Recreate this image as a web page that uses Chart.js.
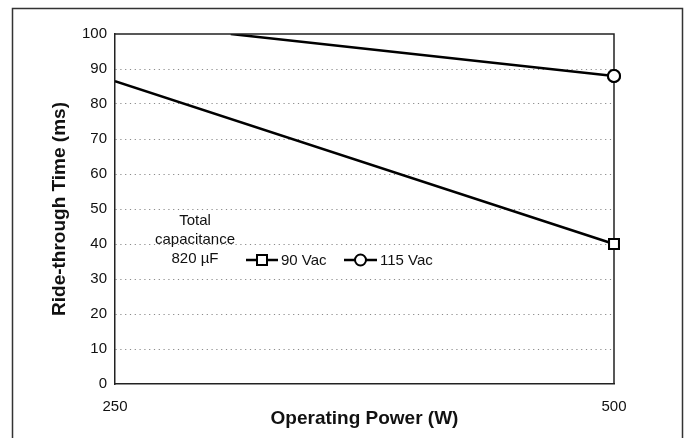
<!DOCTYPE html>
<html>
<head>
<meta charset="utf-8">
<script src="https://cdn.jsdelivr.net/npm/chart.js@4/dist/chart.umd.min.js"></script>
<style>
html,body{margin:0;padding:0;background:#fff;}
#wrap{width:690px;height:438px;position:relative;}
</style>
</head>
<body>
<div id="wrap"><canvas id="rideChart" width="690" height="438"></canvas></div>
<script>
// power (W) and ride-through time (ms)
var power90 = [250, 500];
var time90 = [86.5, 40];
var power115 = [308, 500];
var time115 = [100, 88];
var xTicks = [250, 500];
var yTicks = [0, 10, 20, 30, 40, 50, 60, 70, 80, 90, 100];
var seriesNames = ['90 Vac', '115 Vac'];
var noteLines = ['Total', 'capacitance', '820 \u00b5F'];

var FONT = '"Liberation Sans", Arial, Helvetica, sans-serif';

let toPoints = (xs, ys) => xs.map((x, i) => ({x: x, y: ys[i]}));

// outer frame + plot box + note + legend
let framePlugin = {
	id: 'framePlugin',
	beforeDraw: c => {
		let ctx = c.ctx;
		ctx.save();
		ctx.fillStyle = '#fff';
		ctx.fillRect(0, 0, c.width, c.height);
		ctx.strokeStyle = '#333';
		ctx.lineWidth = 1.5;
		ctx.beginPath();
		ctx.moveTo(12.5, 438);
		ctx.lineTo(12.5, 8.5);
		ctx.lineTo(682.5, 8.5);
		ctx.lineTo(682.5, 438);
		ctx.stroke();
		ctx.restore();
	},
	afterDatasetsDraw: c => {
		let ctx = c.ctx, a = c.chartArea;
		ctx.save();
		ctx.strokeStyle = '#222';
		ctx.lineWidth = 1.5;
		ctx.beginPath();
		ctx.moveTo(a.left, a.top);
		ctx.lineTo(a.right, a.top);
		ctx.lineTo(a.right, a.bottom);
		ctx.stroke();
		ctx.restore();
		// redraw end markers on top of the frame
		c.data.datasets.forEach((ds, i) => {
			c.getDatasetMeta(i).data.forEach(p => p.draw(ctx, a));
		});
	},
	afterDraw: c => {
		let ctx = c.ctx;
		ctx.save();
		ctx.fillStyle = '#111';
		ctx.font = '15px ' + FONT;
		ctx.textAlign = 'center';
		ctx.textBaseline = 'middle';
		noteLines.forEach((t, i) => ctx.fillText(t, 195, 221 + i * 19));
		// legend
		let items = [{x: 246, w: 32}, {x: 344, w: 33}];
		c.data.datasets.forEach((ds, i) => {
			let it = items[i], y = 260, cx = it.x + it.w / 2;
			ctx.strokeStyle = '#000';
			ctx.lineWidth = 2.5;
			ctx.beginPath();
			ctx.moveTo(it.x, y);
			ctx.lineTo(it.x + it.w, y);
			ctx.stroke();
			ctx.fillStyle = '#fff';
			ctx.lineWidth = 2;
			ctx.beginPath();
			if (ds.pointStyle === 'rect') {
				ctx.rect(cx - 5, y - 5, 10, 10);
			} else {
				ctx.arc(cx, y, 5.5, 0, Math.PI * 2);
			}
			ctx.fill();
			ctx.stroke();
			ctx.fillStyle = '#111';
			ctx.textAlign = 'left';
			ctx.fillText(ds.label, it.x + it.w + 3, y + 1);
		});
		ctx.restore();
	}
};

new Chart(document.getElementById('rideChart'), {
	type: 'line',
	data: {
		datasets: [{
			label: seriesNames[0],
			data: toPoints(power90, time90),
			borderColor: '#000',
			borderWidth: 2.5,
			pointStyle: 'rect',
			pointRadius: [0, 7],
			pointBackgroundColor: '#fff',
			pointBorderColor: '#000',
			pointBorderWidth: 2,
			tension: 0
		}, {
			label: seriesNames[1],
			data: toPoints(power115, time115),
			borderColor: '#000',
			borderWidth: 2.5,
			pointStyle: 'circle',
			pointRadius: [0, 6],
			pointBackgroundColor: '#fff',
			pointBorderColor: '#000',
			pointBorderWidth: 2,
			tension: 0
		}]
	},
	options: {
		responsive: false,
		animation: false,
		clip: {left: 0, top: 0, right: 8, bottom: 0},
		layout: {padding: {left: 0, right: 76, top: 34, bottom: 0}},
		plugins: {legend: {display: false}, tooltip: {enabled: false}},
		scales: {
			x: {
				type: 'linear',
				min: xTicks[0],
				max: xTicks[xTicks.length - 1],
				afterBuildTicks: s => { s.ticks = xTicks.map(v => ({value: v})); },
				afterFit: s => { s.height = 54; },
				grid: {display: false, drawTicks: false},
				border: {display: true, color: '#222', width: 1.5},
				ticks: {color: '#111', font: {family: FONT, size: 15}, padding: 14, maxRotation: 0},
				title: {display: true, text: 'Operating Power (W)', color: '#111',
					font: {family: FONT, size: 19, weight: 'bold'}, padding: {top: 0, bottom: 8}}
			},
			y: {
				min: 0,
				max: 100,
				afterBuildTicks: s => { s.ticks = yTicks.map(v => ({value: v})); },
				afterFit: s => { s.width = 115; },
				grid: {
					drawTicks: false,
					color: ctx => (ctx.tick && (ctx.tick.value === 0 || ctx.tick.value === 100)) ? 'rgba(0,0,0,0)' : '#8a8a8a',
					lineWidth: 1
				},
				border: {display: true, color: '#222', width: 1.5, dash: [1.2, 3.6]},
				ticks: {color: '#111', font: {family: FONT, size: 15}, padding: 8},
				title: {display: true, text: 'Ride-through Time (ms)', color: '#111',
					font: {family: FONT, size: 19, weight: 'bold'}, padding: {top: 48, bottom: 0}}
			}
		}
	},
	plugins: [framePlugin]
});
</script>
</body>
</html>
